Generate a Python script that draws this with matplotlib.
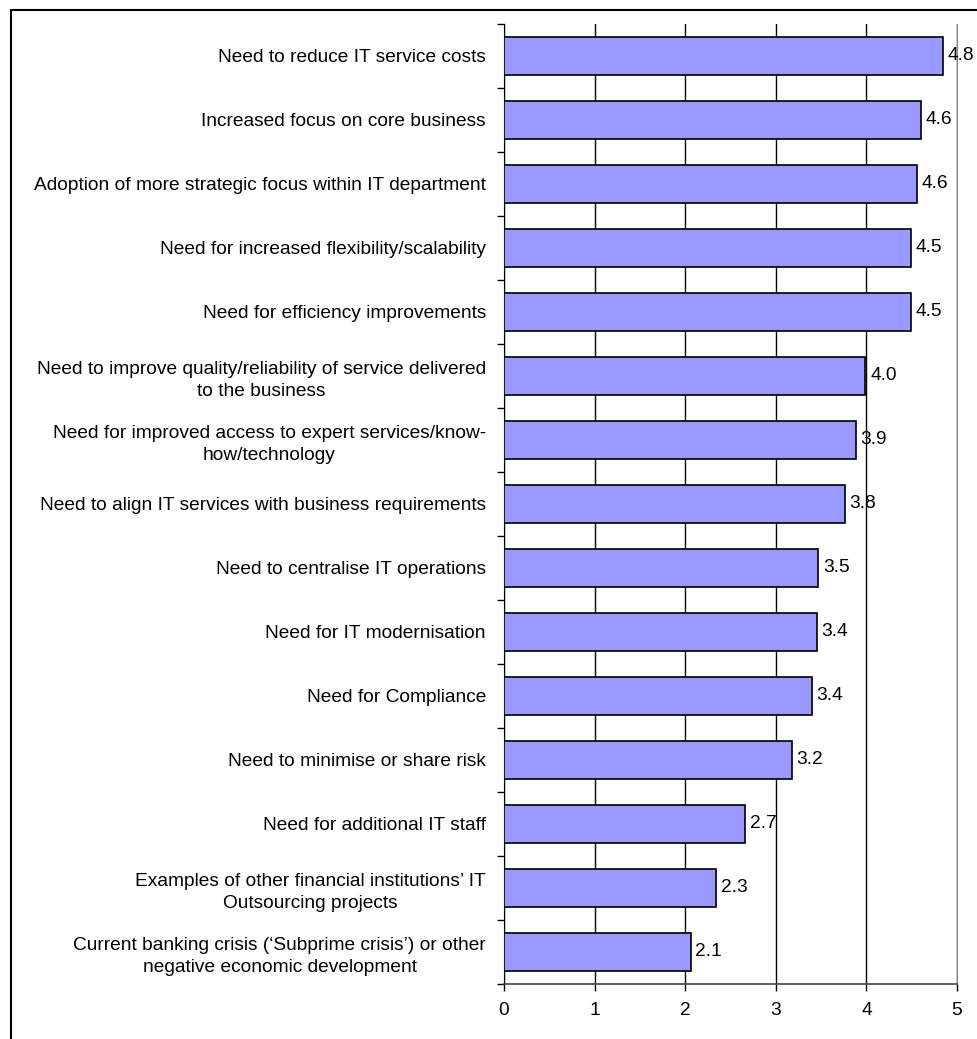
import matplotlib
matplotlib.use("Agg")
import matplotlib.pyplot as plt
from matplotlib.patches import Rectangle

plt.rcParams['font.family'] = ['Liberation Sans', 'DejaVu Sans']

# Data (top to bottom as shown in the chart)
categories = [
    "Need to reduce IT service costs",
    "Increased focus on core business",
    "Adoption of more strategic focus within IT department",
    "Need for increased flexibility/scalability",
    "Need for efficiency improvements",
    "Need to improve quality/reliability of service delivered\nto the business",
    "Need for improved access to expert services/know-\nhow/technology",
    "Need to align IT services with business requirements",
    "Need to centralise IT operations",
    "Need for IT modernisation",
    "Need for Compliance",
    "Need to minimise or share risk",
    "Need for additional IT staff",
    "Examples of other financial institutions\u2019 IT\nOutsourcing projects",
    "Current banking crisis (\u2018Subprime crisis\u2019) or other\nnegative economic development",
]
values = [4.84, 4.60, 4.56, 4.49, 4.49, 3.99, 3.88, 3.76, 3.47, 3.45, 3.40, 3.18, 2.66, 2.34, 2.06]
value_labels = ["4.8", "4.6", "4.6", "4.5", "4.5", "4.0", "3.9", "3.8", "3.5", "3.4", "3.4", "3.2", "2.7", "2.3", "2.1"]
x_ticks = [0, 1, 2, 3, 4, 5]

fs = 13.8

fig = plt.figure(figsize=(9.78, 10.39), dpi=100)
# outer frame (only left/top edges visible in the image)
fig.patches.append(Rectangle((11 / 978, -0.1), 1.2, 1.1 - 10 / 1039, transform=fig.transFigure,
                             fill=False, edgecolor='black', linewidth=1.5))

ax = fig.add_axes([504 / 978, 1 - 984 / 1039, (957 - 504) / 978, (984 - 24) / 1039])

n = len(categories)
ypos = list(range(n))
ax.barh(ypos, values, height=0.6, color='#9999FF', edgecolor='black', linewidth=1.2, zorder=3)

for y, v, lab in zip(ypos, values, value_labels):
    ax.text(v + 0.05, y, lab, va='center', ha='left', fontsize=fs, zorder=4)

ax.set_xlim(0, 5)
ax.set_ylim(n - 0.5, -0.5)
ax.set_xticks(x_ticks)
ax.set_xticklabels([str(t) for t in x_ticks], fontsize=fs)
ax.xaxis.grid(True, color='black', linewidth=1.0, zorder=0)

# category labels centred between boundary ticks
ax.set_yticks([y - 0.5 for y in ypos] + [n - 0.5])
ax.set_yticklabels([])
ax.set_yticks(ypos, minor=True)
ax.set_yticklabels(categories, minor=True, fontsize=fs, multialignment='center', linespacing=1.42)
ax.tick_params(axis='y', which='minor', length=0, pad=13)
ax.tick_params(axis='y', which='major', length=5, width=1, direction='out')
ax.tick_params(axis='x', length=5, width=1, direction='out', pad=8)

ax.spines['top'].set_visible(False)
ax.spines['right'].set_color('#888888')
ax.spines['left'].set_color('black')
ax.spines['bottom'].set_color('#444444')
ax.spines['bottom'].set_linewidth(1.2)

fig.savefig("out.png", dpi=100)
